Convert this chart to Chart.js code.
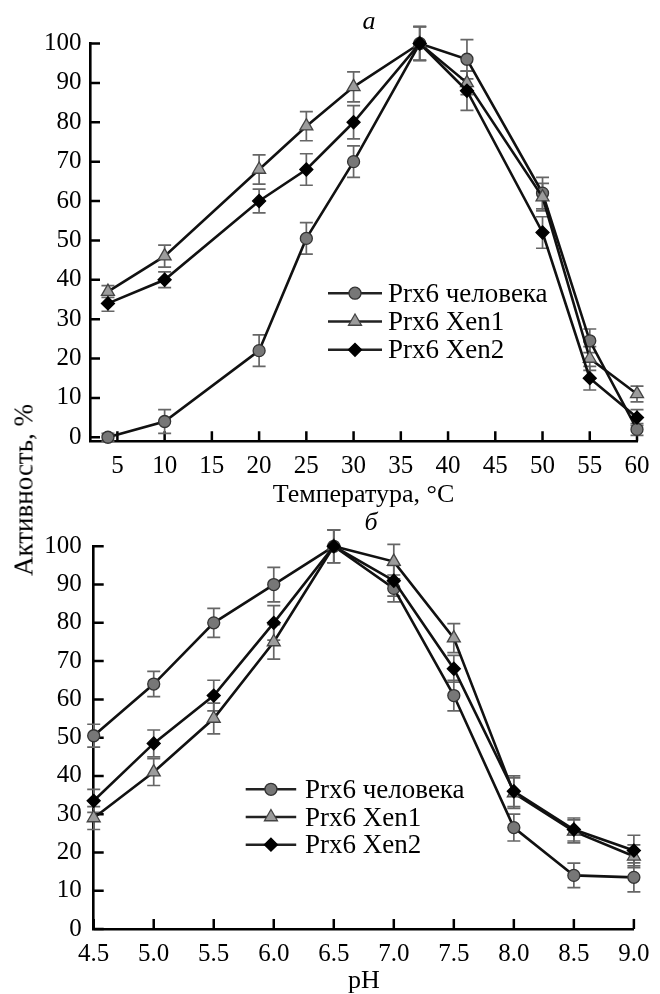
<!DOCTYPE html>
<html>
<head>
<meta charset="utf-8">
<script src="https://cdn.jsdelivr.net/npm/chart.js@4.4.0/dist/chart.umd.min.js"></script>
<style>
body { margin: 0; background: #fff; }
#wrap { position: relative; width: 660px; height: 994px; font-family: "Liberation Serif", "Times New Roman", serif; }
#box1 { position: absolute; left: 0; top: 0; width: 660px; height: 512px; }
#box2 { position: absolute; left: 0; top: 512px; width: 660px; height: 482px; }
.lbl { position: absolute; line-height: 1; white-space: nowrap; color: #000; transform: translate(-50%, -50%); }
.panel { font-size: 26px; font-style: italic; }
#ytitle { font-size: 27px; transform: translate(-50%, -50%) rotate(-90deg); }
</style>
</head>
<body>
<div id="wrap">
  <div id="box1"><canvas id="chartT"></canvas></div>
  <div id="box2"><canvas id="chartPH"></canvas></div>
  <div class="lbl panel" style="left:369px; top:21px;">а</div>
  <div class="lbl panel" style="left:371px; top:522px;">б</div>
  <div class="lbl" id="ytitle" style="left:24px; top:490px;">Активность, %</div>
</div>
<script>
// температурная зависимость
var tempC = [4, 10, 20, 25, 30, 37, 42, 50, 55, 60];
var tempHuman = [0, 4, 22, 50.5, 70, 100, 96, 62, 24.5, 2];
var tempXen1 = [37, 46, 68, 79, 89, 100, 90, 61, 20, 11];
var tempXen2 = [34, 40, 60, 68, 80, 100, 88, 52, 15, 5];
var tempHumanErr = [1, 3, 4, 4, 4, 4.3, 5, 4, 3, 1.5];
var tempXen1Err = [1.5, 2.8, 3.7, 3.7, 3.8, 4.3, 3, 3.5, 3, 2];
var tempXen2Err = [2, 2, 3, 4, 4.2, 4.3, 5, 4, 3, 2];
var tempTicks = [5, 10, 15, 20, 25, 30, 35, 40, 45, 50, 55, 60];

// зависимость от pH
var phVals = [4.5, 5.0, 5.5, 6.0, 6.5, 7.0, 7.5, 8.0, 8.5, 9.0];
var phHuman = [50.5, 64, 80, 90, 100, 89, 61, 26.5, 14, 13.5];
var phXen1 = [29, 41, 55, 75, 100, 96, 76, 35.5, 25.5, 19];
var phXen2 = [33.5, 48.5, 61, 80, 100, 91, 68, 36, 26, 20.5];
var phHumanErr = [3, 3.3, 3.8, 4.5, 4.3, 3.5, 4, 3.5, 3.2, 3.8];
var phXen1Err = [3, 3.5, 4, 4.5, 4.3, 4.5, 3.8, 4, 3, 3];
var phXen2Err = [3, 3.5, 4, 4.5, 4.3, 4, 3.5, 4, 3, 4];
var phTicks = [4.5, 5.0, 5.5, 6.0, 6.5, 7.0, 7.5, 8.0, 8.5, 9.0];

var yTicks = [0, 10, 20, 30, 40, 50, 60, 70, 80, 90, 100];
var seriesNames = ['Prx6 человека', 'Prx6 Xen1', 'Prx6 Xen2'];

Chart.defaults.font.family = '"Liberation Serif", "Times New Roman", serif';
Chart.defaults.font.size = 25;
Chart.defaults.color = '#000';

function pts(xs, ys) {
    return xs.map(function (x, i) { return {x: x, y: ys[i]}; });
}

function makeSets(xv, h, x1, x2, eh, e1, e2) {
    var common = {borderColor: '#111', borderWidth: 2.6, pointBorderWidth: 1.3, clip: false, tension: 0, showLine: true};
    return [
        Object.assign({label: seriesNames[0], data: pts(xv, h), errors: eh, pointStyle: 'circle', pointRadius: 6,
            pointBackgroundColor: '#777', pointBorderColor: '#333', order: 2}, common),
        Object.assign({label: seriesNames[1], data: pts(xv, x1), errors: e1, pointStyle: 'triangle', pointRadius: 7.5,
            pointBackgroundColor: '#9c9c9c', pointBorderColor: '#444', order: 1}, common),
        Object.assign({label: seriesNames[2], data: pts(xv, x2), errors: e2, pointStyle: 'rectRot', pointRadius: 6.5,
            pointBackgroundColor: '#000', pointBorderColor: '#000', order: 0}, common)
    ];
}

var errorBars = {
    id: 'errorBars',
    beforeDatasetsDraw: function (chart) {
        var ctx = chart.ctx, xs = chart.scales.x, ys = chart.scales.y;
        ctx.save();
        ctx.strokeStyle = '#666';
        ctx.lineWidth = 1.7;
        chart.data.datasets.forEach(function (ds) {
            ds.data.forEach(function (p, i) {
                var e = ds.errors[i];
                var px = xs.getPixelForValue(p.x);
                var top = ys.getPixelForValue(p.y + e), bot = ys.getPixelForValue(p.y - e);
                ctx.beginPath();
                ctx.moveTo(px, top); ctx.lineTo(px, bot);
                ctx.moveTo(px - 6.5, top); ctx.lineTo(px + 6.5, top);
                ctx.moveTo(px - 6.5, bot); ctx.lineTo(px + 6.5, bot);
                ctx.stroke();
            });
        });
        ctx.restore();
    }
};

// tick marks pointing into the plot
var inwardTicks = {
    id: 'inwardTicks',
    beforeDatasetsDraw: function (chart) {
        var ctx = chart.ctx, a = chart.chartArea, xs = chart.scales.x, ys = chart.scales.y;
        ctx.save();
        ctx.strokeStyle = '#000';
        ctx.lineWidth = 2.5;
        ctx.beginPath();
        xs.ticks.forEach(function (t) {
            var p = xs.getPixelForValue(t.value);
            ctx.moveTo(p, a.bottom); ctx.lineTo(p, a.bottom - 10);
        });
        ys.ticks.forEach(function (t) {
            var p = ys.getPixelForValue(t.value);
            ctx.moveTo(a.left, p); ctx.lineTo(a.left + 10, p);
        });
        ctx.stroke();
        ctx.restore();
    }
};

var lineLegend = {
    id: 'lineLegend',
    afterDatasetsDraw: function (chart, args, o) {
        var ctx = chart.ctx;
        chart.data.datasets.forEach(function (ds, i) {
            var by = o.y + i * o.dy, my = by - o.lift;
            ctx.save();
            ctx.strokeStyle = '#222';
            ctx.lineWidth = 2.6;
            ctx.beginPath(); ctx.moveTo(o.x, my); ctx.lineTo(o.x + o.len, my); ctx.stroke();
            ctx.fillStyle = ds.pointBackgroundColor;
            ctx.strokeStyle = ds.pointBorderColor;
            ctx.lineWidth = ds.pointBorderWidth;
            Chart.helpers.drawPoint(ctx, {pointStyle: ds.pointStyle, radius: ds.pointRadius,
                borderWidth: ds.pointBorderWidth, rotation: 0}, o.x + o.len / 2, my);
            ctx.fillStyle = '#000';
            ctx.font = o.font;
            ctx.textAlign = 'left';
            ctx.textBaseline = 'alphabetic';
            ctx.fillText(ds.label, o.textX, by);
            ctx.restore();
        });
    }
};

function axisBorder() {
    return {display: true, color: '#000', width: 2.6};
}

var chartT = new Chart(document.getElementById('chartT'), {
    type: 'line',
    data: {datasets: makeSets(tempC, tempHuman, tempXen1, tempXen2, tempHumanErr, tempXen1Err, tempXen2Err)},
    options: {
        responsive: true,
        maintainAspectRatio: false,
        animation: false,
        events: [],
        layout: {padding: {top: 43.5, right: 12, bottom: 0, left: 0}},
        plugins: {
            legend: {display: false},
            tooltip: {enabled: false},
            lineLegend: {x: 328, len: 54, textX: 388, y: 301.7, dy: 28.3, lift: 8.5, font: '27px "Liberation Serif"'}
        },
        scales: {
            x: {
                type: 'linear', min: 2.1, max: 60,
                afterBuildTicks: function (s) { s.ticks = tempTicks.map(function (v) { return {value: v}; }); },
                afterFit: function (s) { s.height = 512 - 441.2; },
                grid: {display: true, drawOnChartArea: false, drawTicks: false},
                border: axisBorder(),
                ticks: {padding: 10.5, maxRotation: 0, autoSkip: false},
                title: {display: true, text: 'Температура, °C', font: {size: 26, lineHeight: 1}, padding: {top: 0, bottom: 4}}
            },
            y: {
                min: -1, max: 100,
                afterBuildTicks: function (s) { s.ticks = yTicks.map(function (v) { return {value: v}; }); },
                afterFit: function (s) { s.width = 90; },
                grid: {display: true, drawOnChartArea: false, drawTicks: false},
                border: axisBorder(),
                ticks: {padding: 8.5}
            }
        }
    },
    plugins: [inwardTicks, errorBars, lineLegend]
});

var chartPH = new Chart(document.getElementById('chartPH'), {
    type: 'line',
    data: {datasets: makeSets(phVals, phHuman, phXen1, phXen2, phHumanErr, phXen1Err, phXen2Err)},
    options: {
        responsive: true,
        maintainAspectRatio: false,
        animation: false,
        events: [],
        layout: {padding: {top: 34.3, right: 17.3, bottom: 0, left: 0}},
        plugins: {
            legend: {display: false},
            tooltip: {enabled: false},
            lineLegend: {x: 245.7, len: 50.5, textX: 305, y: 286, dy: 27.7, lift: 8.7, font: '27px "Liberation Serif"'}
        },
        scales: {
            x: {
                type: 'linear', min: 4.5, max: 9.0,
                afterBuildTicks: function (s) { s.ticks = phTicks.map(function (v) { return {value: v}; }); },
                afterFit: function (s) { s.height = 65; },
                grid: {display: true, drawOnChartArea: false, drawTicks: false},
                border: axisBorder(),
                ticks: {padding: 10.5, maxRotation: 0, autoSkip: false,
                    callback: function (v) { return Number(v).toFixed(1); }},
                title: {display: true, text: 'pH', font: {size: 26, lineHeight: 1}, padding: {top: 0, bottom: 0}}
            },
            y: {
                min: 0, max: 100,
                afterBuildTicks: function (s) { s.ticks = yTicks.map(function (v) { return {value: v}; }); },
                afterFit: function (s) { s.width = 93.7; },
                grid: {display: true, drawOnChartArea: false, drawTicks: false},
                border: axisBorder(),
                ticks: {padding: 12}
            }
        }
    },
    plugins: [inwardTicks, errorBars, lineLegend]
});
</script>
</body>
</html>
